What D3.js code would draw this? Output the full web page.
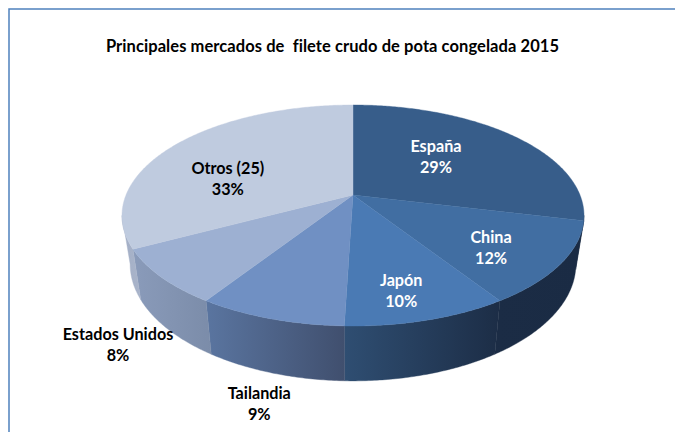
<!DOCTYPE html>
<html><head><meta charset="utf-8">
<style>html,body{margin:0;padding:0;background:#fff}svg{display:block}text{font-family:Lato,"Open Sans",sans-serif;font-weight:700}</style>
<script src="https://cdn.jsdelivr.net/npm/d3@7"></script></head>
<body><svg id="c" width="675" height="432"></svg>
<script>
const title = "Principales mercados de  filete crudo de pota congelada 2015";
const categories = ["España","China","Japón","Tailandia","Estados Unidos","Otros (25)"];
const values = [29,12.2,9.8,8.8,8.2,33];
const topColors = ["#375d8a","#416ea2","#4a7ab4","#7090c3","#9db0d2","#bfcbdf"];
const sideLeft = ["#1a2b44","#1b2c45","#2f4e72","#5a75a0","#8a9bba","#a3afc6"];
const sideRight = ["#1a2b44","#1a2b44","#1c2d46","#404f6e","#7b8ca9","#a9b4ca"];
const labelColors = ["#fff","#fff","#fff","#000","#000","#000"];
const labelOffsetX = [-17,19,7,-48,-126,-15];
const labelOffsetY = [-1,14,27,141,103,15];

const svg = d3.select("#c");
const defs = svg.append("defs");
svg.append("rect").attr("x",9).attr("y",9).attr("width",700).attr("height",500)
  .attr("fill","#fff").attr("stroke","#4f81bd").attr("stroke-width",1.5);
svg.append("text").attr("x",332.5).attr("y",52).attr("text-anchor","middle")
  .attr("font-size",16.5).attr("letter-spacing",0.07).style("white-space","pre").text(title);

const persp = 0.1855;
const cx = 353;
const project = (a, r, apexY, ay, bx) => {
  const w = 1 + persp * r * Math.cos(a);
  return [cx + bx * r * Math.sin(a) / w, apexY - ay * r * Math.cos(a) / w];
};
const upper = (a, r=1) => project(a, r, 195, 106.7, 227);
const lower = a => project(a, 1, 242.4, 112.8, 219);
const line = d3.line();
const pie = d3.pie().sort(null).value(d => d)(values);
const arcAngles = (a0, a1) => {
  const n = Math.max(2, Math.ceil((a1 - a0) / 0.01));
  return d3.range(n + 1).map(i => a0 + (a1 - a0) * i / n);
};
const sideMin = 1.757, sideMax = 4.526;

pie.forEach((d, i) => {
  const a0 = Math.max(d.startAngle, sideMin), a1 = Math.min(d.endAngle, sideMax);
  if (a1 <= a0) return;
  const as = arcAngles(a0, a1);
  const pts = as.map(a => upper(a)).concat(as.slice().reverse().map(a => lower(a)));
  const xs = d3.extent(pts, p => p[0]);
  const g = defs.append("linearGradient").attr("id","s"+i).attr("gradientUnits","userSpaceOnUse")
    .attr("x1",xs[0]).attr("x2",xs[1]).attr("y1",0).attr("y2",0);
  g.append("stop").attr("offset",0).attr("stop-color",sideLeft[i]);
  g.append("stop").attr("offset",1).attr("stop-color",sideRight[i]);
  svg.append("path").attr("d", line(pts)+"Z").attr("fill",`url(#s${i})`)
    .attr("stroke",`url(#s${i})`).attr("stroke-width",0.4);
});
pie.forEach((d, i) => {
  const pts = [upper(0,0)].concat(arcAngles(d.startAngle,d.endAngle).map(a => upper(a)));
  svg.append("path").attr("d", line(pts)+"Z").attr("fill",topColors[i])
    .attr("stroke",topColors[i]).attr("stroke-width",0.4);
});
pie.forEach((d, i) => {
  const mid = (d.startAngle + d.endAngle) / 2;
  const p = upper(mid, 0.6);
  const x = p[0] + labelOffsetX[i], y = p[1] + labelOffsetY[i];
  const t = svg.append("text").attr("text-anchor","middle").attr("font-size",16.2).attr("fill",labelColors[i]);
  t.append("tspan").attr("x",x).attr("y",y-5).text(categories[i]);
  t.append("tspan").attr("x",x).attr("y",y+16).text(Math.round(values[i])+"%");
});
</script></body></html>
